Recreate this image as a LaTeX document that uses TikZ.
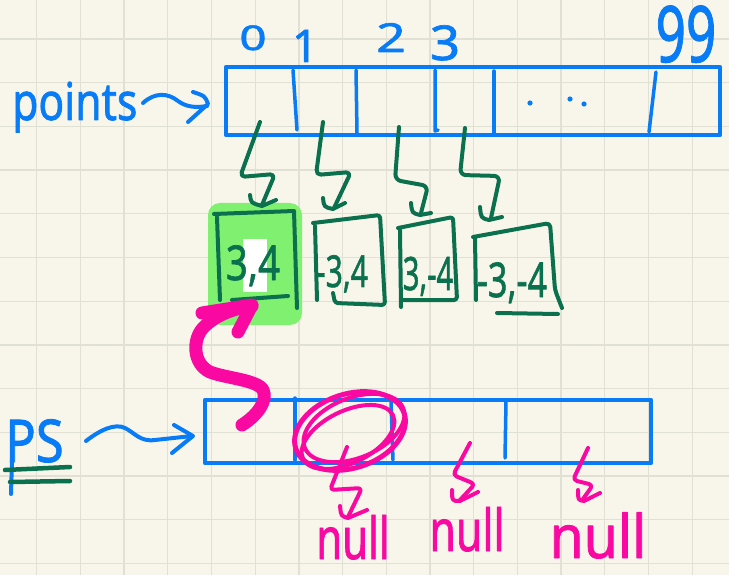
\documentclass[tikz,border=0pt]{standalone}
\usepackage{fontspec}
\setmainfont{Noto Sans}
\newfontfamily\handfont{Noto Sans}[FakeBold=1.4]
\definecolor{paper}{RGB}{248,246,234}
\definecolor{gridgray}{RGB}{225,224,212}
\definecolor{penblue}{RGB}{8,124,246}
\definecolor{pengreen}{RGB}{10,112,78}
\definecolor{penpink}{RGB}{250,8,162}
\definecolor{hilite}{RGB}{128,240,112}
\newcommand{\hw}[3]{\handfont\fontsize{#1}{#1}\selectfont\scalebox{#2}[1]{#3}}
\begin{document}
\begin{tikzpicture}[x=1pt,y=-1pt,line cap=round,line join=round,
  gridline/.style={draw=gridgray,line width=1.3pt},
  bluepen/.style={draw=penblue,line width=4pt},
  greenpen/.style={draw=pengreen,line width=4pt},
  pinkpen/.style={draw=penpink,line width=4pt},
  pinkthick/.style={draw=penpink,line width=13pt},
  arraybox/.style={draw=penblue,line width=4.5pt,inner sep=0pt,outer sep=0pt},
  handblue/.style={text=penblue,inner sep=0pt,anchor=base},
  handgreen/.style={text=pengreen,inner sep=0pt,anchor=base},
  handpink/.style={text=penpink,inner sep=0pt,anchor=base}]
\useasboundingbox (0,0) rectangle (729,575);
\fill[paper] (0,0) rectangle (729,575);
% squared paper
\foreach \i in {0,...,16} \draw[gridline] ({36.7+43.7*\i},0) -- ({36.7+43.7*\i},575);
\foreach \j in {0,...,12} \draw[gridline] (0,{39+43.7*\j}) -- (729,{39+43.7*\j});

% ---------- the points array ----------
\node[arraybox,minimum width=494pt,minimum height=68pt] (pts) at (473,101) {};
\draw[bluepen,line width=3.5pt] (293,70) -- (297,130);
\draw[bluepen,line width=3.5pt] (356,70) -- (357,133);
\draw[bluepen,line width=3.5pt] (435,70) -- (435,131) -- (438,130);
\draw[bluepen,line width=3.5pt] (494,71) -- (494,133);
\draw[bluepen,line width=3.5pt] (656,72) -- (649,132);
\fill[penblue] (530,103) circle (2.6) (570,99) circle (2.6) (584,104) circle (2.6);

% indices
\node[handblue] (i0) at (253,50) {\hw{34}{1.4}{0}};
\node[handblue] (i1) at (305,62) {\hw{45}{1}{1}};
\node[handblue] (i2) at (391,52) {\hw{40}{1.3}{2}};
\node[handblue] (i3) at (445,60) {\hw{48}{1.1}{3}};
\node[handblue] (i99) at (686,62) {\hw{78}{0.68}{99}};

% name and pointer
\node[handblue,anchor=base west] (ptslabel) at (12,120) {\hw{52}{0.82}{points}};
\draw[bluepen] (143,103) .. controls (155,92) and (168,93) .. (178,101)
  .. controls (186,107) and (196,108) .. (207,106);
\draw[bluepen] (193,92) .. controls (205,96) .. (208,104) -- (188,122);

% ---------- point objects ----------
\fill[hilite,rounded corners=12pt] (208,203) rectangle (302,325);
\fill[white] (243,239) rectangle (267,292);
\draw[greenpen] (217,217) -- (220,300);
\draw[greenpen] (214,214) -- (294,211) -- (297,308);
\draw[greenpen] (232,300) -- (288,296);
\node[handgreen] (p0) at (253,280) {\hw{48}{0.8}{3,4}};

\draw[greenpen] (315,226) -- (317,300);
\draw[greenpen,rounded corners=3pt] (313,223) -- (380,215) -- (385,305) -- (335,303) -- (333,293);
\node[handgreen] (p1) at (342,287) {\hw{44}{0.68}{-3,4}};

\draw[greenpen] (400,230) -- (401,307);
\draw[greenpen,rounded corners=3pt] (398,228) -- (453,217) -- (457,300) -- (403,300);
\node[handgreen] (p2) at (428,290) {\hw{46}{0.63}{3,-4}};

\draw[greenpen] (475,238) -- (476,300);
\draw[greenpen,rounded corners=4pt] (473,237) -- (550,223) -- (555,290) -- (562,308);
\draw[greenpen] (497,313) -- (558,314);
\node[handgreen] (p3) at (512,297) {\hw{48}{0.71}{-3,-4}};

% references from the array cells to the objects
\draw[greenpen,rounded corners=5pt] (260,122) -- (240,177) -- (275,174) -- (262,205);
\draw[greenpen] (250,195) .. controls (251,203) .. (262,206) -- (276,200);
\draw[greenpen,rounded corners=5pt] (323,122) -- (316,175) -- (351,172) -- (334,208);
\draw[greenpen] (323,198) .. controls (324,207) .. (333,209) -- (345,203);
\draw[greenpen,rounded corners=6pt] (399,127) -- (395,180) -- (428,186) -- (421,213);
\draw[greenpen] (411,203) .. controls (412,213) .. (420,215) -- (431,213);
\draw[greenpen,rounded corners=6pt] (465,128) -- (460,175) -- (500,176) -- (491,218);
\draw[greenpen] (480,207) .. controls (481,218) .. (489,220) -- (502,217);

% ---------- the ps array ----------
\node[arraybox,minimum width=446pt,minimum height=63pt] (ps) at (428,431.5) {};
\draw[bluepen,line width=3.5pt] (295,398) -- (295,460);
\draw[bluepen,line width=3.5pt] (391,402) -- (393,460);
\draw[bluepen,line width=3.5pt] (506,402) -- (505,458);

\node[handblue,anchor=base west] (pslabel) at (5,462) {\hw{59}{0.86}{PS}};
\draw[bluepen] (12,460) -- (11,494);
\draw[greenpen,line width=4.5pt] (5,470) -- (70,467);
\draw[greenpen,line width=4.5pt] (10,482) -- (70,481);
\draw[bluepen] (86,441) .. controls (100,430) and (115,423) .. (125,428)
  .. controls (135,433) and (140,442) .. (155,440) -- (192,436);
\draw[bluepen] (174,425) -- (193,436) -- (172,453);

% ps[0] now refers to the first point
\draw[pinkthick] (242,425) .. controls (258,415) and (268,400) .. (263,390)
  .. controls (258,380) and (225,378) .. (210,372)
  .. controls (193,364) and (192,340) .. (203,328)
  .. controls (215,315) and (235,308) .. (252,306);
\draw[pinkthick] (202,313) -- (252,305) -- (238,332);

% scribbled ring round ps[1]
\draw[pinkpen,line width=5pt,rotate around={18:(350,431)}] (350,431) ellipse [x radius=57, y radius=37];
\draw[pinkpen,rotate around={22:(354,428)}] (354,428) ellipse [x radius=53, y radius=30];
\draw[pinkpen,rotate around={26:(348,437)}] (348,437) ellipse [x radius=50, y radius=26];

% remaining slots hold null
\draw[pinkpen,rounded corners=4pt] (347,447) -- (330,490) -- (362,488) -- (348,517);
\draw[pinkpen] (340,506) .. controls (341,516) .. (348,518) -- (367,510);
\draw[pinkpen,rounded corners=4pt] (470,443) -- (453,475) -- (475,484) -- (460,500);
\draw[pinkpen] (452,490) .. controls (452,501) .. (460,501) -- (478,492);
\draw[pinkpen,rounded corners=4pt] (588,448) -- (573,480) -- (593,485) -- (583,499);
\draw[pinkpen] (578,490) .. controls (578,500) .. (584,501) -- (600,493);

\node[handpink] (n1) at (353,559) {\hw{58}{0.72}{null}};
\node[handpink] (n2) at (467,551) {\hw{58}{0.74}{null}};
\node[handpink] (n3) at (598,558) {\hw{60}{0.92}{null}};
\end{tikzpicture}
\end{document}
